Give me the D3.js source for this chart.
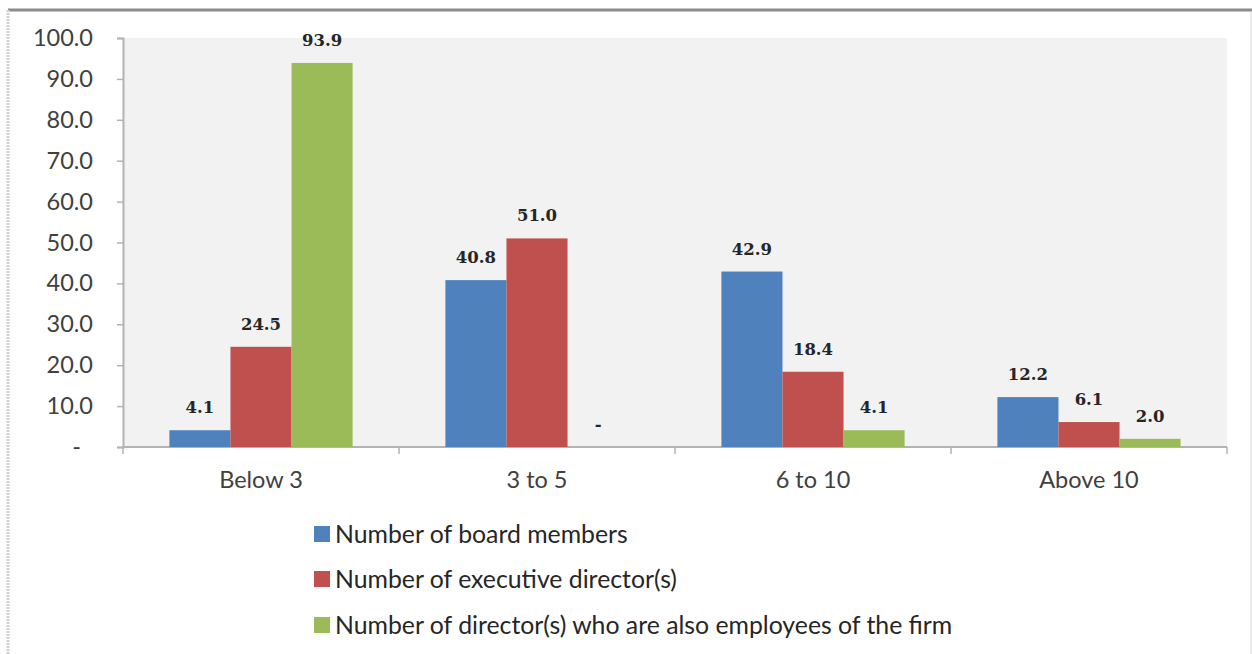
<!DOCTYPE html>
<html>
<head>
<meta charset="utf-8">
<script src="https://cdn.jsdelivr.net/npm/d3@7"></script>
<style>
  html, body { margin: 0; padding: 0; background: #fff; }
  svg { display: block; }
</style>
</head>
<body>
<svg id="chart" width="1252" height="654"></svg>
<script>
// Board composition by size bracket (percent of firms)
const categories = ["Below 3", "3 to 5", "6 to 10", "Above 10"];
const seriesNames = [
  "Number of board members",
  "Number of executive director(s)",
  "Number of director(s) who are also employees of the firm"
];
const boardMembers = [4.1, 40.8, 42.9, 12.2];
const executiveDirectors = [24.5, 51.0, 18.4, 6.1];
const employeeDirectors = [93.9, 0.0, 4.1, 2.0];
const yTicks = [0, 10, 20, 30, 40, 50, 60, 70, 80, 90, 100];
const colors = ["#4f81bd", "#c0504d", "#9bbb59"];

const seriesValues = [boardMembers, executiveDirectors, employeeDirectors];

const svg = d3.select("#chart");
const W = 1252, H = 654;
const plot = { left: 123, right: 1227, top: 38, bottom: 447 };

// outer frame
svg.append("line").attr("x1", 8).attr("x2", W).attr("y1", 10).attr("y2", 10)
  .attr("stroke", "#8c8c8c").attr("stroke-width", 3);
svg.append("line").attr("x1", 8).attr("x2", 8).attr("y1", 10).attr("y2", H)
  .attr("stroke", "#cfcfcf").attr("stroke-width", 3).attr("stroke-dasharray", "2,1");
svg.append("line").attr("x1", 1251).attr("x2", 1251).attr("y1", 12).attr("y2", H)
  .attr("stroke", "#e6e6e6").attr("stroke-width", 1.5);

// plot background
svg.append("rect")
  .attr("x", plot.left).attr("y", plot.top)
  .attr("width", plot.right - plot.left).attr("height", plot.bottom - plot.top)
  .attr("fill", "#f2f2f2");

const y = d3.scaleLinear().domain([0, 100]).range([plot.bottom, plot.top]);
const x0 = d3.scaleBand().domain(categories).range([plot.left, plot.right])
  .paddingInner(0).paddingOuter(0);
const x1 = d3.scaleBand().domain(d3.range(seriesNames.length))
  .range([0, x0.bandwidth()]).paddingInner(0).paddingOuter(0.76);

// y axis
const yAxis = svg.append("g")
  .attr("transform", `translate(${plot.left},0)`)
  .call(d3.axisLeft(y).tickValues(yTicks).tickSize(6).tickPadding(24)
    .tickFormat(d => d === 0 ? "-" : d3.format(".1f")(d)));
yAxis.select(".domain").attr("stroke", "#b3b3b3").attr("stroke-width", 2);
yAxis.selectAll(".tick line").attr("stroke", "#b3b3b3").attr("stroke-width", 1.5);
yAxis.selectAll(".tick text")
  .attr("fill", "#404040")
  .style("font-family", "Lato, 'Open Sans', sans-serif")
  .style("font-size", "23.5px");
yAxis.selectAll(".tick").filter(d => d === 0).select("text").attr("dx", -12);

// x axis with ticks between categories
const xAxisG = svg.append("g");
xAxisG.append("line")
  .attr("x1", plot.left).attr("x2", plot.right)
  .attr("y1", plot.bottom).attr("y2", plot.bottom)
  .attr("stroke", "#b3b3b3").attr("stroke-width", 2);
const boundaries = categories.map(c => x0(c)).concat([x0.range()[1]]);
xAxisG.selectAll("line.tick").data(boundaries).join("line")
  .attr("class", "tick")
  .attr("x1", d => d).attr("x2", d => d)
  .attr("y1", plot.bottom).attr("y2", plot.bottom + 7)
  .attr("stroke", "#b3b3b3").attr("stroke-width", 1.5);
xAxisG.selectAll("text").data(categories).join("text")
  .attr("x", d => x0(d) + x0.bandwidth() / 2)
  .attr("y", plot.bottom + 33)
  .attr("dy", "0.35em")
  .attr("text-anchor", "middle")
  .attr("fill", "#404040")
  .style("font-family", "Lato, 'Open Sans', sans-serif")
  .style("font-size", "23.5px")
  .text(d => d);

// bars
const barData = [];
categories.forEach((c, ci) => {
  seriesValues.forEach((vals, si) => {
    barData.push({ cat: c, s: si, v: vals[ci] });
  });
});

svg.append("g").selectAll("rect").data(barData).join("rect")
  .attr("x", d => x0(d.cat) + x1(d.s))
  .attr("y", d => y(d.v))
  .attr("width", x1.bandwidth())
  .attr("height", d => y(0) - y(d.v))
  .attr("fill", d => colors[d.s]);

// value labels
svg.append("g").selectAll("text").data(barData).join("text")
  .attr("x", d => x0(d.cat) + x1(d.s) + x1.bandwidth() / 2)
  .attr("y", d => y(d.v) - 17)
  .attr("text-anchor", "middle")
  .attr("fill", "#262626")
  .style("font-family", "'DejaVu Serif', serif")
  .style("font-weight", "bold")
  .style("font-size", "16.5px")
  .text(d => d.v === 0 ? "-" : d3.format(".1f")(d.v));

// legend
const legendRows = [534, 579, 625];
const legend = svg.append("g").selectAll("g").data(seriesNames).join("g")
  .attr("transform", (d, i) => `translate(314,${legendRows[i]})`);
legend.append("rect")
  .attr("x", 0).attr("y", -8).attr("width", 16).attr("height", 16)
  .attr("fill", (d, i) => colors[i]);
legend.append("text")
  .attr("x", 21).attr("y", 0).attr("dy", "0.35em")
  .attr("fill", "#262626")
  .style("font-family", "Lato, 'Open Sans', sans-serif")
  .style("font-size", "24.8px")
  .text(d => d);
</script>
</body>
</html>
